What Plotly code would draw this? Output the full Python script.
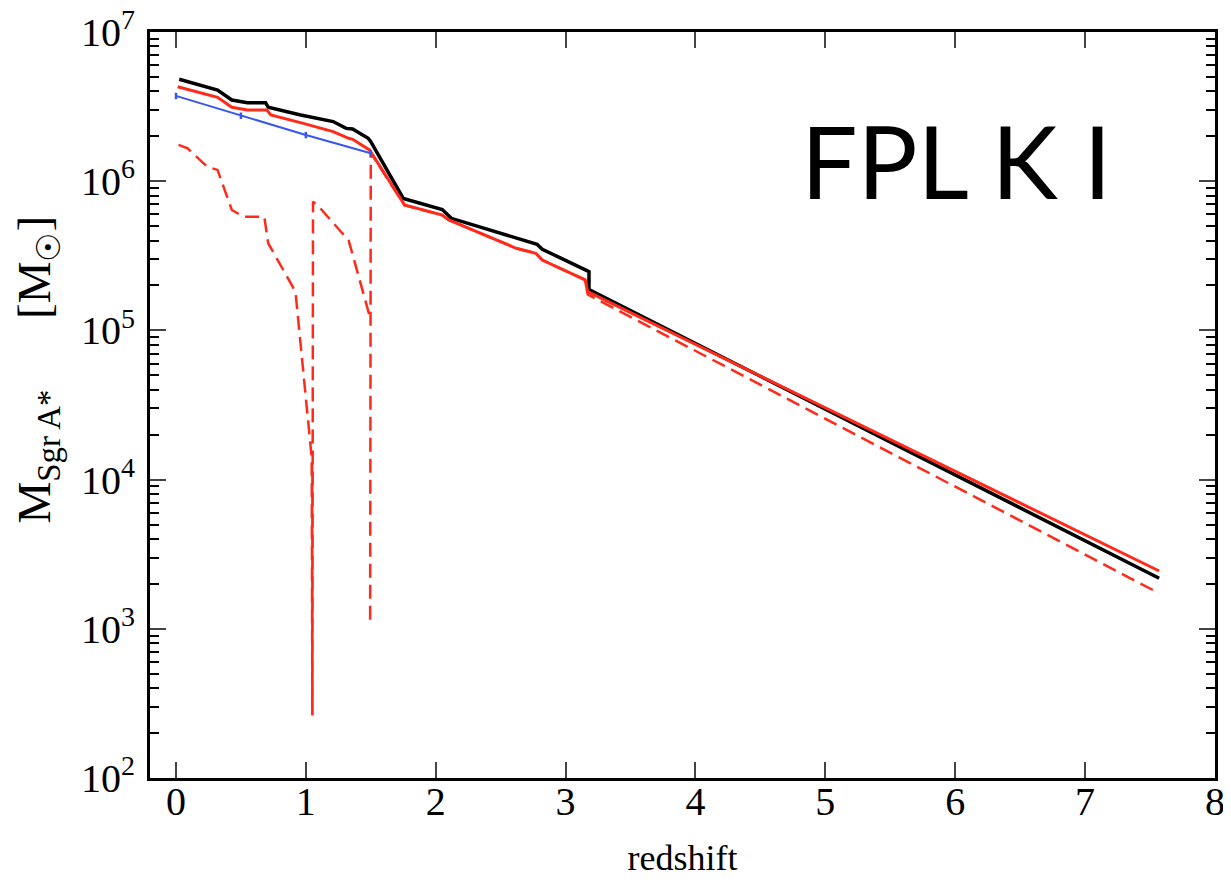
import plotly.graph_objects as go

# redshift / mass values
z_total = [0.025, 0.32, 0.43, 0.55, 0.69, 0.71, 0.96, 1.21, 1.31, 1.36, 1.48, 1.50,
           1.75, 2.05, 2.12, 2.62, 2.78, 2.82, 3.18, 3.18, 7.57]
m_total = [4.82e6, 4.08e6, 3.50e6, 3.36e6, 3.36e6, 3.13e6, 2.78e6, 2.51e6, 2.26e6, 2.24e6,
           1.94e6, 1.84e6, 7.67e5, 6.46e5, 5.64e5, 4.14e5, 3.78e5, 3.50e5, 2.48e5, 1.88e5, 2.18e3]

z_red = [0.013, 0.32, 0.43, 0.55, 0.70, 0.73, 0.98, 1.21, 1.33, 1.36, 1.49,
         1.76, 2.05, 2.10, 2.62, 2.77, 2.82, 3.15, 3.17, 7.57]
m_red = [4.30e6, 3.65e6, 3.13e6, 3.00e6, 3.00e6, 2.78e6, 2.44e6, 2.15e6, 1.94e6, 1.91e6, 1.62e6,
         6.92e5, 5.93e5, 5.50e5, 3.55e5, 3.29e5, 2.96e5, 2.18e5, 1.82e5, 2.44e3]

# dashed curve; None splits it so the vertical drop at z=1.5 is drawn once
z_dash = [0.02, 0.09, 0.24, 0.32, 0.43, 0.52, 0.68, 0.71, 0.92, 1.045, 1.05, 1.055, 1.11,
          1.33, 1.49, None, 1.495, 1.50, 1.76, 2.05, 2.10, 2.62, 2.77, 2.82, 3.15, 3.17, 7.57]
m_dash = [1.75e6, 1.66e6, 1.25e6, 1.19e6, 6.41e5, 5.78e5, 5.78e5, 3.84e5, 1.82e5, 1.4e4, 263,
          7.3e5, 6.6e5, 4.0e5, 1.26e5, None, 1.15e3, 1.55e6, 6.9e5, 5.93e5, 5.50e5, 3.55e5,
          3.29e5, 2.96e5, 2.18e5, 1.74e5, 1.73e3]

z_dip = [1.05, 1.05]
m_dip = [1.3e4, 263]

z_obs = [0.0, 0.5, 1.0, 1.5]
m_obs = [3.73e6, 2.75e6, 2.04e6, 1.54e6]

y_tickvals = [1e2, 1e3, 1e4, 1e5, 1e6, 1e7]
y_ticktext = ["10<sup>2</sup>", "10<sup>3</sup>", "10<sup>4</sup>",
              "10<sup>5</sup>", "10<sup>6</sup>", "10<sup>7</sup>"]
minor_vals = [k * 10 ** d for d in range(2, 7) for k in range(2, 10)]

fig = go.Figure()
fig.add_trace(go.Scatter(x=z_dip, y=m_dip, mode="lines", line=dict(color="#ff2a1a", width=2)))
fig.add_trace(go.Scatter(x=z_dash, y=m_dash, mode="lines", connectgaps=False,
                         line=dict(color="#ff2a1a", width=2.5, dash="14px,7px")))
fig.add_trace(go.Scatter(x=z_total, y=m_total, mode="lines", line=dict(color="black", width=3.5)))
fig.add_trace(go.Scatter(x=z_red, y=m_red, mode="lines", line=dict(color="#ff2a1a", width=3)))
fig.add_trace(go.Scatter(x=z_obs, y=m_obs, mode="lines", line=dict(color="#3a55f0", width=2),
                         error_y=dict(type="percent", value=5, width=0, thickness=2.5, color="#3a55f0")))

fig.add_annotation(text="FPL K I", xref="paper", yref="paper", x=0.757, y=0.829,
                   xanchor="center", yanchor="middle", showarrow=False,
                   font=dict(family="Lato", size=100, color="black"))

serif = "Liberation Serif"
# leading spaces push the rotated title up a little along the axis
ytitle = "&nbsp;" * 6 + "M<sub>Sgr A*</sub>" + "&nbsp;" * 6 + "[M<sub>\u2609</sub>]"

# page body has an 8px margin, so the figure is 8px smaller and margins shifted
fig.update_layout(
    width=1223, height=878,
    margin=dict(l=142, r=16, t=24, b=108),
    plot_bgcolor="white", paper_bgcolor="white",
    showlegend=False,
    xaxis=dict(range=[-0.2, 8], dtick=1, tick0=0, ticks="inside", ticklen=16, tickwidth=1.5,
               showline=True, linewidth=3, linecolor="black", mirror="ticks", showgrid=False,
               zeroline=False, automargin=False, ticklabelstandoff=-14, ticklabeloverflow="allow",
               tickfont=dict(family=serif, size=40, color="black"),
               title=dict(text="redshift", font=dict(family=serif, size=36, color="black"),
                          standoff=22)),
    yaxis=dict(type="log", range=[2, 7], tickmode="array", tickvals=y_tickvals, ticktext=y_ticktext,
               ticks="inside", ticklen=16, tickwidth=2,
               minor=dict(tickmode="array", tickvals=minor_vals, ticks="inside", ticklen=9,
                          tickwidth=1.5, tickcolor="black", showgrid=False),
               showline=True, linewidth=3, linecolor="black", mirror="ticks", showgrid=False,
               zeroline=False, automargin=False, ticklabeloverflow="allow", ticklabelstandoff=4,
               tickfont=dict(family=serif, size=40, color="black"),
               title=dict(text=ytitle, font=dict(family=serif, size=47, color="black"), standoff=22)),
)

fig.write_html("out.html")
